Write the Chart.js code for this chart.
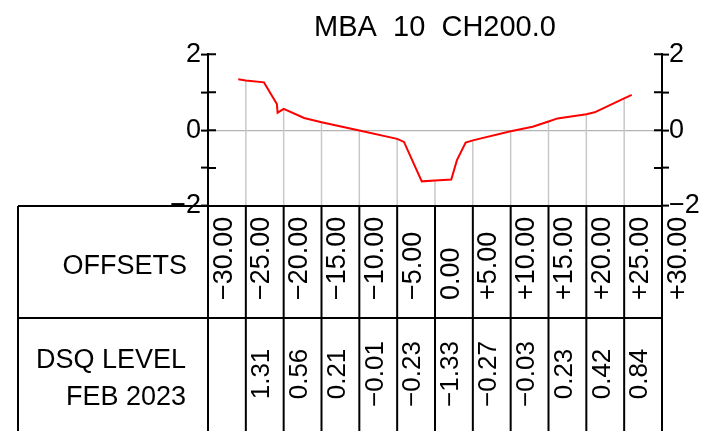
<!DOCTYPE html>
<html>
<head>
<meta charset="utf-8">
<script src="https://cdn.jsdelivr.net/npm/chart.js@4.4.1/dist/chart.umd.min.js"></script>
<style>
  html, body { margin: 0; padding: 0; background: #fff; }
  #wrap { width: 703px; height: 431px; position: relative; }
</style>
</head>
<body>
<div id="wrap"><canvas id="sectionChart"></canvas></div>
<script>
// cross section data
const chartTitle = 'MBA  10  CH200.0';
const offsets = [-30, -25, -20, -15, -10, -5, 0, 5, 10, 15, 20, 25, 30];
const levels = [null, 1.31, 0.56, 0.21, -0.01, -0.23, -1.33, -0.27, -0.03, 0.23, 0.42, 0.84, null];
const profileX = [-26, -25, -22.6, -20.9, -20.8, -20, -17.3, -15, -10, -5, -4.1, -1.75, 0, 2.15, 2.9, 4.05, 5, 10, 12.9, 15, 16.2, 20, 21.1, 25, 26];
const profileY = [1.34, 1.31, 1.26, 0.69, 0.46, 0.56, 0.32, 0.21, -0.01, -0.23, -0.31, -1.35, -1.33, -1.30, -0.79, -0.33, -0.27, -0.03, 0.09, 0.23, 0.31, 0.42, 0.47, 0.84, 0.93];
const yLabels = { '2': '2', '0': '0', '-2': '\u22122' };

const FONT = "'Liberation Sans', Arial, sans-serif";

function fmtOffset(v) {
    if (v === 0) return '0.00';
    return (v > 0 ? '+' : '\u2212') + Math.abs(v).toFixed(2);
}
function fmtLevel(v) {
    return (v < 0 ? '\u2212' : '') + Math.abs(v).toFixed(2);
}

// gray drop lines from the bottom of the plot up to the profile
const dropLines = {
    id: 'dropLines',
    beforeDatasetsDraw(chart) {
        const ctx = chart.ctx, xs = chart.scales.x, ys = chart.scales.y;
        ctx.save();
        ctx.strokeStyle = '#c8c8c8';
        ctx.lineWidth = 1.5;
        offsets.forEach((o, i) => {
            if (levels[i] === null) return;
            const px = xs.getPixelForValue(o);
            ctx.beginPath();
            ctx.moveTo(px, ys.getPixelForValue(-2));
            ctx.lineTo(px, ys.getPixelForValue(levels[i]));
            ctx.stroke();
        });
        ctx.restore();
    }
};

// title over the plot centre, table under the plot, inner half of axis ticks
const sectionTable = {
    id: 'sectionTable',
    afterDraw(chart) {
        const ctx = chart.ctx, xs = chart.scales.x, ys = chart.scales.y;
        const top = ys.getPixelForValue(-2);
        const mid = 318;
        const bottom = chart.height;
        const left = 18;
        const xl = xs.getPixelForValue(-30), xr = xs.getPixelForValue(30);

        ctx.save();
        ctx.fillStyle = '#000';
        ctx.font = '29px ' + FONT;
        ctx.textAlign = 'center';
        ctx.textBaseline = 'alphabetic';
        ctx.fillText(chartTitle, xs.getPixelForValue(0), 36);

        ctx.strokeStyle = '#000';
        ctx.lineWidth = 2;

        // inner ticks
        [-2, -1, 0, 1, 2].forEach(v => {
            const py = ys.getPixelForValue(v);
            ctx.beginPath();
            ctx.moveTo(xl, py); ctx.lineTo(xl + 8, py);
            ctx.moveTo(xr, py); ctx.lineTo(xr - 8, py);
            ctx.stroke();
        });

        ctx.beginPath();
        ctx.moveTo(left, top); ctx.lineTo(xr, top);
        ctx.moveTo(left, mid); ctx.lineTo(xr, mid);
        ctx.moveTo(left, top); ctx.lineTo(left, bottom);
        offsets.forEach(o => {
            const px = xs.getPixelForValue(o);
            ctx.moveTo(px, top); ctx.lineTo(px, bottom);
        });
        ctx.stroke();

        ctx.font = '27px ' + FONT;
        ctx.textAlign = 'right';
        ctx.fillText('OFFSETS', 187, 274);
        ctx.fillText('DSQ LEVEL', 186, 368);
        ctx.fillText('FEB 2023', 186, 405);

        offsets.forEach((o, i) => {
            const px = xs.getPixelForValue(o);
            ctx.save();
            ctx.translate(px + 23.5, 300);
            ctx.rotate(-Math.PI / 2);
            ctx.textAlign = 'left';
            ctx.font = '27px ' + FONT;
            ctx.fillText(fmtOffset(o), 0, 0);
            ctx.restore();

            if (levels[i] !== null) {
                ctx.save();
                ctx.translate(px + 23.3, 374);
                ctx.rotate(-Math.PI / 2);
                ctx.textAlign = 'center';
                ctx.font = "26px 'Liberation Sans Narrow', " + FONT;
                ctx.fillText(fmtLevel(levels[i]), 0, 0);
                ctx.restore();
            }
        });
        ctx.restore();
    }
};

const yAxis = (pos, width) => ({
    type: 'linear',
    position: pos,
    min: -2,
    max: 2,
    afterFit: s => { s.width = width; },
    border: { display: true, color: '#000', width: 2 },
    grid: {
        drawOnChartArea: pos === 'left',
        color: c => (c.tick && c.tick.value === 0) ? '#b4b4b4' : 'rgba(0,0,0,0)',
        lineWidth: 1.2,
        tickColor: '#000',
        tickLength: 7,
        tickWidth: 2
    },
    ticks: {
        stepSize: 1,
        autoSkip: false,
        padding: 0,
        color: '#000',
        font: { family: FONT, size: 27 },
        callback: v => yLabels[String(v)] || ''
    }
});

new Chart(document.getElementById('sectionChart'), {
    type: 'line',
    data: {
        datasets: [{
            data: profileX.map((x, i) => ({ x: x, y: profileY[i] })),
            borderColor: '#ff0000',
            borderWidth: 2,
            pointRadius: 0,
            tension: 0,
            fill: false
        }]
    },
    options: {
        responsive: true,
        maintainAspectRatio: false,
        animation: false,
        layout: { padding: { top: 54.3, left: 0, right: 0, bottom: 225 } },
        scales: {
            x: { type: 'linear', min: -30, max: 30, display: false },
            y: yAxis('left', 208),
            y2: yAxis('right', 41)
        },
        plugins: {
            legend: { display: false },
            tooltip: { enabled: false },
            title: { display: false }
        }
    },
    plugins: [dropLines, sectionTable]
});
</script>
</body>
</html>
